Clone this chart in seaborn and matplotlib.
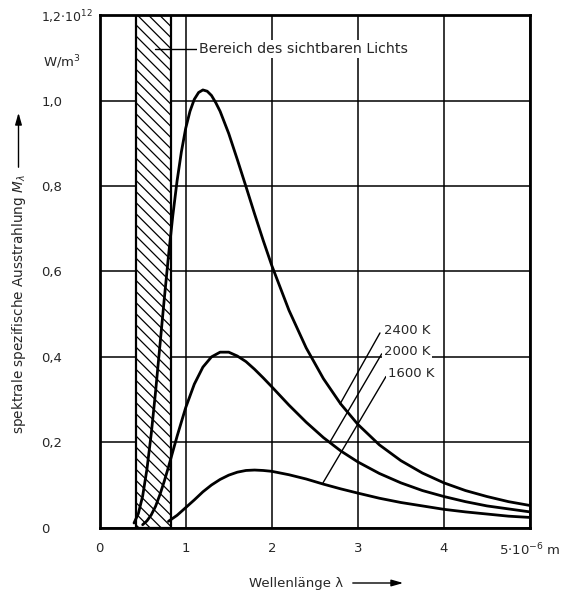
import numpy as np
import pandas as pd
import matplotlib
matplotlib.use("Agg")
import matplotlib.pyplot as plt
import matplotlib.transforms as mtransforms
from matplotlib.patches import Rectangle, FancyArrowPatch
import seaborn as sns

# ---- data ----
lam_2400 = [0.4, 0.45, 0.5, 0.55, 0.6, 0.65, 0.7, 0.75, 0.8, 0.85, 0.9, 0.95, 1.0, 1.05,
            1.1, 1.15, 1.2, 1.25, 1.3, 1.35, 1.4, 1.5, 1.6, 1.7, 1.8, 1.9, 2.0, 2.2,
            2.4, 2.6, 2.8, 3.0, 3.25, 3.5, 3.75, 4.0, 4.25, 4.5, 4.75, 5.0]
m_2400 = [0.011, 0.033, 0.074, 0.137, 0.220, 0.318, 0.425, 0.533, 0.636, 0.730, 0.812,
          0.880, 0.935, 0.975, 1.003, 1.019, 1.025, 1.022, 1.012, 0.995, 0.975, 0.923,
          0.862, 0.799, 0.735, 0.673, 0.614, 0.509, 0.421, 0.349, 0.290, 0.242, 0.194,
          0.157, 0.128, 0.105, 0.087, 0.073, 0.061, 0.052]

lam_2000 = [0.5, 0.55, 0.6, 0.65, 0.7, 0.75, 0.8, 0.9, 1.0, 1.1, 1.2, 1.3, 1.4, 1.5, 1.6,
            1.7, 1.8, 1.9, 2.0, 2.2, 2.4, 2.6, 2.8, 3.0, 3.25, 3.5, 3.75, 4.0, 4.25, 4.5,
            4.75, 5.0]
m_2000 = [0.007, 0.016, 0.030, 0.050, 0.077, 0.108, 0.142, 0.214, 0.281, 0.336, 0.376,
          0.400, 0.411, 0.411, 0.402, 0.389, 0.371, 0.351, 0.330, 0.287, 0.247, 0.211,
          0.180, 0.154, 0.127, 0.105, 0.087, 0.073, 0.061, 0.051, 0.044, 0.037]

lam_1600 = [0.8, 0.9, 1.0, 1.1, 1.2, 1.3, 1.4, 1.5, 1.6, 1.7, 1.8, 1.9, 2.0, 2.2, 2.4,
            2.6, 2.8, 3.0, 3.25, 3.5, 3.75, 4.0, 4.25, 4.5, 4.75, 5.0]
m_1600 = [0.015, 0.029, 0.047, 0.065, 0.084, 0.100, 0.113, 0.123, 0.130, 0.134, 0.135,
          0.134, 0.132, 0.124, 0.114, 0.102, 0.091, 0.081, 0.069, 0.059, 0.051, 0.043,
          0.037, 0.032, 0.027, 0.024]

series_labels = ["2400 K", "2000 K", "1600 K"]
x_ticks = [0, 1, 2, 3, 4, 5]
x_ticklabels = ["0", "1", "2", "3", "4", "5$\\cdot$10$^{-6}$ m"]
y_ticks = [0, 0.2, 0.4, 0.6, 0.8, 1.0, 1.2]
y_ticklabels = ["0", "0,2", "0,4", "0,6", "0,8", "1,0", "1,2$\\cdot$10$^{12}$"]
visible_band = (0.42, 0.83)

# ---- style ----
sns.set_style("white")
plt.rcParams["font.family"] = ["DejaVu Sans"]
plt.rcParams["mathtext.fontset"] = "dejavusans"
plt.rcParams["hatch.linewidth"] = 0.9
FS = 9.5

df = pd.concat([
    pd.DataFrame({"lam": lam_2400, "M": m_2400, "T": series_labels[0]}),
    pd.DataFrame({"lam": lam_2000, "M": m_2000, "T": series_labels[1]}),
    pd.DataFrame({"lam": lam_1600, "M": m_1600, "T": series_labels[2]}),
], ignore_index=True)

W, H = 563, 591
fig = plt.figure(figsize=(W / 100, H / 100), dpi=100)
L, R, T_, B = 99.6, 530.0, 15.2, 527.7
ax = fig.add_axes([L / W, 1 - B / H, (R - L) / W, (B - T_) / H])

# visible light band
ax.add_patch(Rectangle((visible_band[0], 0), visible_band[1] - visible_band[0], 1.2,
                       facecolor="white", edgecolor="black", hatch="\\\\\\", lw=1.6, zorder=1.5))

sns.lineplot(data=df, x="lam", y="M", hue="T", palette=["black"] * 3, estimator=None,
             sort=False, legend=False, lw=2.0, ax=ax, zorder=3)
for ln in ax.lines:
    ln.set_solid_joinstyle("round")
    ln.set_solid_capstyle("round")

ax.set_xlim(0, 5)
ax.set_ylim(0, 1.2)
ax.set_xticks(x_ticks)
ax.set_xticklabels(x_ticklabels, fontsize=FS)
ax.set_yticks(y_ticks)
ax.set_yticklabels(y_ticklabels, fontsize=FS, ha="left")
ax.get_yticklabels()[-1].set_fontsize(FS - 0.5)
ax.tick_params(axis="x", length=0, pad=10)
ax.tick_params(axis="y", length=0, pad=42)
ax.grid(True, color="black", lw=1.1, zorder=1)
ax.set_axisbelow(True)
for s in ax.spines.values():
    s.set_linewidth(2.0)
    s.set_color("black")
    s.set_zorder(4)
ax.set_xlabel("")
ax.set_ylabel("")

# unit label
trans = mtransforms.blended_transform_factory(ax.transAxes, ax.transData)
ax.text((43 - L) / (R - L), 1.089, "W/m$^3$", transform=trans, ha="left", va="center", fontsize=FS)

# annotation for visible light
ax.plot([0.643, 1.13], [1.1214, 1.1214], color="black", lw=1.0, zorder=5)
ax.text(1.16, 1.1214, "Bereich des sichtbaren Lichts", ha="left", va="center", fontsize=FS + 0.7,
        zorder=6, bbox=dict(facecolor="white", edgecolor="none", pad=1.5))

# temperature labels with leader lines
leaders = [((3.257, 0.456), (2.794, 0.290)),
           ((3.277, 0.407), (2.677, 0.201)),
           ((3.327, 0.354), (2.595, 0.105))]
label_pos = [(3.30, 0.4613), (3.30, 0.412), (3.345, 0.360)]
for (p0, p1), (tx, ty), lab in zip(leaders, label_pos, series_labels):
    ax.plot([p0[0], p1[0]], [p0[1], p1[1]], color="black", lw=1.0, zorder=5)
    ax.text(tx, ty, lab, ha="left", va="center", fontsize=FS, zorder=6,
            bbox=dict(facecolor="white", edgecolor="none", pad=1.0))

# axis titles with arrows
fig.text(296.5 / W, 1 - 583 / H, "Wellenlänge λ", ha="center", va="center", fontsize=FS)
fig.add_artist(FancyArrowPatch(
    (350 / W, 1 - 583 / H), (406 / W, 1 - 583 / H), transform=fig.transFigure,
    arrowstyle="-|>,head_length=7,head_width=2", lw=1.0, color="black"))

fig.text(19 / W, 1 - 304 / H, "spektrale spezifische Ausstrahlung $M_\\lambda$",
         rotation=90, ha="center", va="center", fontsize=FS + 0.3)
fig.add_artist(FancyArrowPatch(
    (18.5 / W, 1 - 170 / H), (18.5 / W, 1 - 110 / H), transform=fig.transFigure,
    arrowstyle="-|>,head_length=7,head_width=2", lw=1.0, color="black"))

fig.savefig("out.png", dpi=100)
